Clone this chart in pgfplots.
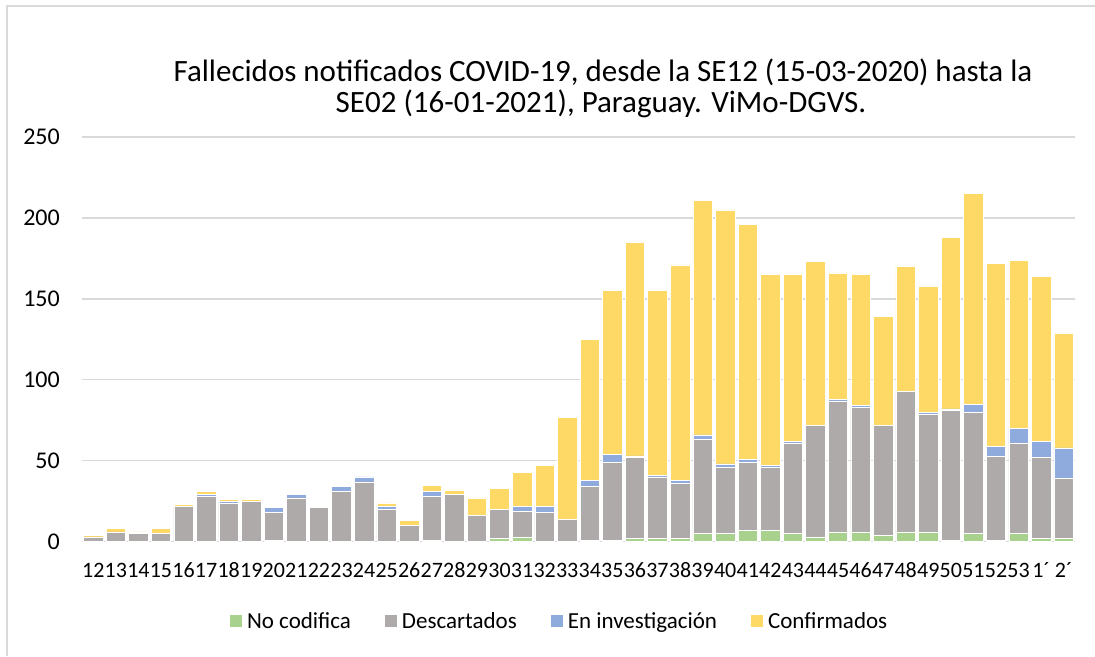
\documentclass[border=0pt]{standalone}
\usepackage{pgfplots}
\pgfplotsset{compat=1.18}
\usepackage{pgfplotstable}
\usepackage{fontspec}
\setmainfont{Carlito}
\definecolor{cgreen}{HTML}{A9D18E}
\definecolor{cgray}{HTML}{AEAAAA}
\definecolor{cblue}{HTML}{8FAADC}
\definecolor{cyellow}{HTML}{FFD966}
\definecolor{gridgray}{HTML}{D9D9D9}

\pgfplotstableread{
x g d i c
0 0 3 0 1
1 0 6 0 2
2 0 5 0 1
3 0 5 0 3
4 0 22 0 1
5 0 28 1 2
6 0 24 1 1
7 0 25 0 1
8 1 17 3 1
9 0 27 2 0
10 0 21 1 0
11 0 31 3 0
12 0 37 3 0
13 0 20 2 2
14 0 10 0 3
15 1 27 3 4
16 0 29 0 3
17 0 16 0 11
18 2 18 0 13
19 3 16 3 21
20 0 18 4 25
21 0 14 0 63
22 1 33 4 87
23 1 48 5 101
24 2 50 1 132
25 2 38 1 114
26 2 34 2 133
27 5 58 3 145
28 5 41 2 157
29 7 42 2 145
30 7 39 1 118
31 5 56 1 103
32 3 69 0 101
33 6 81 1 78
34 6 77 1 81
35 4 68 0 67
36 6 87 0 77
37 6 73 1 78
38 1 80 1 106
39 5 75 5 130
40 1 52 6 113
41 5 56 9 104
42 2 50 10 102
43 2 37 19 71
}\datatab

\begin{document}
\begin{tikzpicture}[x=1pt,y=1pt]
\path[use as bounding box] (0,0) rectangle (1095,656);
\draw[color=gridgray, line width=1.5pt] (7,0) -- (7,650) -- (1095,650);
\node[anchor=base, font=\fontsize{31}{36}\selectfont] at (603,574) {Fallecidos notificados COVID-19, desde la SE12 (15-03-2020) hasta la};
\node[anchor=base, font=\fontsize{31}{36}\selectfont] at (601,543) {SE02 (16-01-2021), Paraguay. ViMo-DGVS.};
\begin{axis}[
  at={(82pt,114.3pt)}, anchor=south west,
  scale only axis, width=993pt, height=404.7pt,
  xmin=-0.5, xmax=43.5, ymin=0, ymax=250,
  ybar stacked, bar width=19.5pt,
  axis x line*=bottom, axis y line*=left,
  x axis line style={draw=gridgray, line width=1.5pt},
  y axis line style={draw=none},
  major tick length=0pt,
  ymajorgrids, grid style={draw=gridgray, line width=1.3pt},
  ytick={0,50,100,150,200,250},
  xtick={0,...,43},
  xticklabels={12,13,14,15,16,17,18,19,20,21,22,23,24,25,26,27,28,29,30,31,32,33,34,35,36,37,38,39,40,41,42,43,44,45,46,47,48,49,50,51,52,53,1´,2´},
  /pgf/number format/assume math mode=true,
  ticklabel style={inner sep=0pt},
  yticklabel style={xshift=-22pt, font=\fontsize{24}{28}\selectfont},
  xticklabel style={yshift=-21pt, font=\fontsize{22}{26}\selectfont},
  legend columns=4,
  legend style={draw=none, at={(0.481,-0.196)}, anchor=center,
    font=\fontsize{23}{27}\selectfont,
    /tikz/every even column/.append style={column sep=32pt},
    /tikz/every odd column/.append style={column sep=3pt}},
  legend image code/.code={\fill[#1,draw=none] (0pt,-6pt) rectangle (12pt,6pt);},
  every axis plot/.append style={draw=white, line width=0.6pt},
]
\addplot[fill=cgreen] table[x=x,y=g] {\datatab};
\addplot[fill=cgray] table[x=x,y=d] {\datatab};
\addplot[fill=cblue] table[x=x,y=i] {\datatab};
\addplot[fill=cyellow] table[x=x,y=c] {\datatab};
\legend{No codifica,Descartados,En investigación,Confirmados}
\end{axis}
\end{tikzpicture}
\end{document}
